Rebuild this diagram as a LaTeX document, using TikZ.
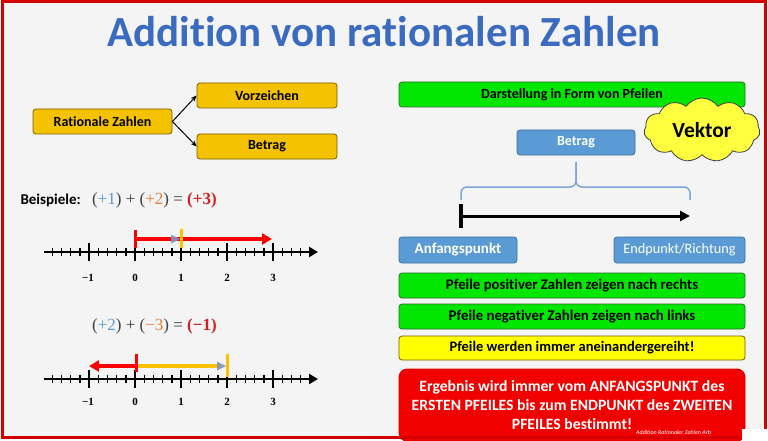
\documentclass[tikz,border=0pt]{standalone}
\usepackage{fontspec}
\setmainfont{Carlito}[Ligatures=NoCommon]
\newfontfamily\eqfont{Liberation Serif}
\usetikzlibrary{shapes.symbols,arrows.meta}
\definecolor{frame}{HTML}{D40000}
\definecolor{bg}{HTML}{F4F4F4}
\definecolor{gold}{HTML}{F5C200}
\definecolor{goldb}{HTML}{7A6000}
\definecolor{grn}{HTML}{00E600}
\definecolor{grnb}{HTML}{2F6B2F}
\definecolor{blu}{HTML}{5B9BD5}
\definecolor{blub}{HTML}{41719C}
\definecolor{ylw}{HTML}{FFFF00}
\definecolor{cloudy}{HTML}{FFFF40}
\definecolor{redbox}{HTML}{F20000}
\definecolor{titleblue}{HTML}{3A6BC0}
\definecolor{eqblue}{HTML}{5B9BD5}
\definecolor{eqorange}{HTML}{ED7D31}
\definecolor{eqred}{HTML}{D42020}
\definecolor{eqgray}{HTML}{404040}
\definecolor{arrblue}{HTML}{7F95C0}
\definecolor{nlyellow}{HTML}{FFC000}
\definecolor{bracecol}{HTML}{7AA7D8}
\begin{document}
\begin{tikzpicture}[x=1pt,y=-1pt,
  basebox/.style={line width=0.8pt, rounded corners=3pt, align=center, inner sep=0pt,
    font=\bfseries\fontsize{14}{16}\selectfont},
  goldbox/.style={basebox, draw=goldb, fill=gold},
  greenbox/.style={basebox, draw=grnb, fill=grn},
  widegreen/.style={greenbox, font=\bfseries\fontsize{14.8}{17}\selectfont},
  bluebox/.style={basebox, draw=blub, fill=blu, text=white},
  yelbox/.style={basebox, draw=goldb, fill=ylw, font=\bfseries\fontsize{14.5}{17}\selectfont},
  redbigbox/.style={basebox, draw=frame, fill=redbox, text=white, rounded corners=8pt,
    font=\bfseries\fontsize{15.7}{19.3}\selectfont},
  numlab/.style={font=\eqfont\bfseries\fontsize{11}{13}\selectfont},
  eqtext/.style={font=\eqfont\fontsize{17}{19}\selectfont, text=eqgray, inner sep=0pt},
  conn/.style={-{Stealth[length=6pt,width=5pt]}, line width=1pt},
  axisline/.style={line width=2.5pt,-{Triangle[length=9pt,width=10pt]}},
  minortick/.style={line width=1.4pt},
  majortick/.style={line width=1.8pt}
]
\useasboundingbox (0,0) rectangle (768,441);
\fill[white] (0,0) rectangle (768,441);
\fill[bg] (2,2) rectangle (765,437);

% title
\node[font=\bfseries\fontsize{43}{50}\selectfont, text=titleblue] (title) at (384,32) {Addition von rationalen Zahlen};

% left tree
\node[goldbox, minimum width=139pt, minimum height=25pt] (rat) at (102.5,121.5) {Rationale Zahlen};
\node[goldbox, minimum width=140pt, minimum height=25pt] (vor) at (267,95.5) {Vorzeichen};
\node[goldbox, minimum width=140pt, minimum height=25pt] (bet1) at (267,146.5) {Betrag};
\draw[conn] (rat.east) -- (vor.west);
\draw[conn] (rat.east) -- (bet1.west);

% example 1
\node[anchor=west, font=\bfseries\fontsize{15}{17}\selectfont] (bsp) at (17,200) {Beispiele:};
\node[eqtext, anchor=west] (eq1) at (92,200) {(\textcolor{eqblue}{+1}) + (\textcolor{eqorange}{+2}) = \textcolor{eqred}{\bfseries(+3)}};
\draw[axisline] (44,252) -- (318,252);
\foreach \k in {-9,...,19} {\draw[minortick] ({135+9.2*\k},248) -- ({135+9.2*\k},256);}
\foreach \k in {-1,...,3} {\draw[majortick] ({135+46*\k},243) -- ({135+46*\k},261);}
\node[numlab] (la1) at (88,278) {−1};
\node[numlab] (la2) at (135,278) {0};
\node[numlab] (la3) at (181,278) {1};
\node[numlab] (la4) at (227,278) {2};
\node[numlab] (la5) at (273,278) {3};
\draw[red, line width=3.5pt, -{Triangle[length=10pt,width=11pt]}] (135,239) -- (272,239);
\draw[red, line width=3pt] (135,230) -- (135,248);
\fill[arrblue, opacity=0.9] (180,239) -- (171,234.5) -- (171,243.5) -- cycle;
\draw[nlyellow, line width=3pt] (181,229) -- (181,248);

% example 2
\node[eqtext, anchor=west] (eq2) at (92,326) {(\textcolor{eqblue}{+2}) + (\textcolor{eqorange}{−3}) = \textcolor{eqred}{\bfseries(−1)}};
\draw[axisline] (44,379) -- (318,379);
\foreach \k in {-9,...,19} {\draw[minortick] ({135+9.2*\k},375) -- ({135+9.2*\k},383);}
\foreach \k in {-1,...,3} {\draw[majortick] ({135+46*\k},370) -- ({135+46*\k},388);}
\node[numlab] (lb1) at (88,402) {−1};
\node[numlab] (lb2) at (135,402) {0};
\node[numlab] (lb3) at (181,402) {1};
\node[numlab] (lb4) at (227,402) {2};
\node[numlab] (lb5) at (273,402) {3};
\draw[nlyellow, line width=3.5pt] (136,366) -- (220,366);
\fill[arrblue, opacity=0.9] (226,366) -- (217,361.5) -- (217,370.5) -- cycle;
\draw[nlyellow, line width=3pt] (227,354) -- (227,377);
\draw[red, line width=3.5pt, -{Triangle[length=10pt,width=11pt]}] (136,366) -- (89,366);
\draw[red, line width=3pt] (136,354) -- (136,372);

% right side
\node[greenbox, minimum width=346pt, minimum height=25pt] (darst) at (572,94.5) {Darstellung in Form von Pfeilen};
\node[cloud, cloud puffs=11, cloud puff arc=110, aspect=1.8, draw=black!75, line width=0.8pt, fill=cloudy,
  minimum width=116pt, minimum height=64pt, inner sep=0pt, font=\bfseries\fontsize{21.5}{24}\selectfont] (vek) at (702,130) {Vektor};
\node[bluebox, minimum width=118pt, minimum height=25pt] (bet2) at (576,142.5) {Betrag};
\draw[bracecol, line width=1.5pt, rounded corners=6pt] (461,200) -- (461,187) -- (576,187) -- (576,162);
\draw[bracecol, line width=1.5pt, rounded corners=6pt] (690,200) -- (690,187) -- (576,187) -- (576,162);
\draw[black, line width=3pt, -{Triangle[length=10pt,width=10pt]}] (461,216) -- (690,216);
\draw[black, line width=3.5pt] (461,204) -- (461,228);

\node[bluebox, minimum width=118pt, minimum height=26pt, font=\bfseries\fontsize{15}{17}\selectfont] (anf) at (458,250) {Anfangspunkt};
\node[bluebox, minimum width=131pt, minimum height=26pt, font=\fontsize{14.3}{16}\selectfont] (endp) at (679.5,250) {Endpunkt/Richtung};
\node[widegreen, minimum width=346pt, minimum height=25pt] (pos) at (572,285.5) {Pfeile positiver Zahlen zeigen nach rechts};
\node[widegreen, minimum width=346pt, minimum height=25pt] (neg) at (572,316.5) {Pfeile negativer Zahlen zeigen nach links};
\node[yelbox, minimum width=346pt, minimum height=24pt] (imm) at (572,348) {Pfeile werden immer aneinandergereiht!};
\node[redbigbox, minimum width=346pt, minimum height=72pt] (erg) at (572,405) {Ergebnis wird immer vom ANFANGSPUNKT des\\ERSTEN PFEILES bis zum ENDPUNKT des ZWEITEN\\PFEILES bestimmt!};

% frame
\draw[frame, line width=3pt] (2,2) rectangle (765,437);
\fill[white] (742,429) rectangle (768,441);
\node[anchor=west, text=white, inner sep=0pt, font=\itshape\fontsize{6}{7}\selectfont] (wm) at (636,432) {Addition Rationaler Zahlen Arb};
\end{tikzpicture}
\end{document}
